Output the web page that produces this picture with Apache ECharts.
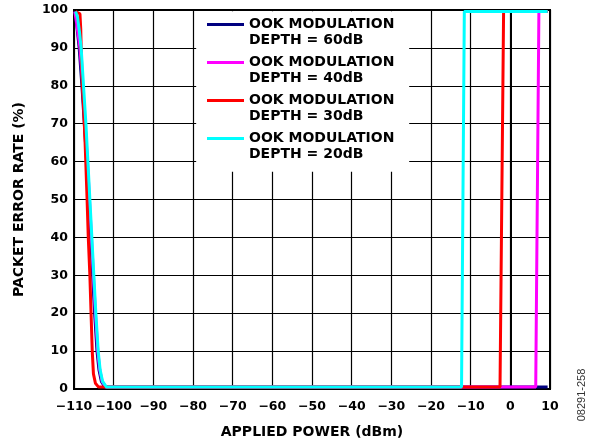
<!DOCTYPE html>
<html>
<head>
<meta charset="utf-8">
<script src="https://cdn.jsdelivr.net/npm/echarts@6/dist/echarts.min.js"></script>
<style>
html,body{margin:0;padding:0;background:#fff;}
#chart{width:595px;height:444px;}
</style>
</head>
<body>
<div id="chart"></div>
<script>
// ---- data ----
var xTicks = [-110, -100, -90, -80, -70, -60, -50, -40, -30, -20, -10, 0, 10];
var yTicks = [0, 10, 20, 30, 40, 50, 60, 70, 80, 90, 100];
var seriesNames = [
  'OOK MODULATION\nDEPTH = 60dB',
  'OOK MODULATION\nDEPTH = 40dB',
  'OOK MODULATION\nDEPTH = 30dB',
  'OOK MODULATION\nDEPTH = 20dB'
];
var seriesColors = ['#000080', '#ff00ff', '#ff0000', '#00ffff'];

// 60 dB
var x60 = [-109.8, -109.3, -108.7, -108.0, -107.4, -106.8, -106.3, -105.8, -105.3, -104.8, -104.2, -103.7, -103.1, -102.2, 9.4];
var y60 = [99.6, 96, 90, 80, 70, 60, 50, 40, 30, 20, 10, 5, 2, 0.5, 0.5];
// 40 dB
var x40 = [-109.8, -109.4, -109.0, -108.5, -107.8, -107.2, -106.6, -106.1, -105.6, -105.1, -104.6, -104.0, -103.5, -102.9, -102.0, 6.4, 7.2, 9.4];
var y40 = [99.6, 97, 94, 90, 80, 70, 60, 50, 40, 30, 20, 10, 5, 2, 0.5, 0.5, 99.6, 99.6];
// 30 dB
var x30 = [-109.6, -108.5, -108.3, -108.2, -107.9, -107.6, -107.2, -106.7, -106.4, -106.0, -105.7, -105.4, -105.1, -104.6, -103.8, -2.6, -1.7, 9.4];
var y30 = [99.6, 99, 95, 90, 80, 75, 65, 50, 40, 30, 20, 10, 4, 1.5, 0.5, 0.5, 99.6, 99.6];
// 20 dB
var x20 = [-109.6, -109.1, -108.6, -108.2, -107.6, -107.0, -106.5, -106.0, -105.5, -105.0, -104.5, -103.9, -103.4, -102.8, -101.8, -12.3, -11.6, 9.4];
var y20 = [99.6, 98, 94, 90, 80, 70, 60, 50, 40, 30, 20, 10, 5, 2, 0.5, 0.5, 99.6, 99.6];

var xs = [x60, x40, x30, x20];
var ys = [y60, y40, y30, y20];

function pairs(a, b) { return a.map(function (v, i) { return [v, b[i]]; }); }
function fmt(v) { return v < 0 ? '\u2212' + Math.abs(v) : String(v); }

var FONT = 'DejaVu Sans';
var chart = echarts.init(document.getElementById('chart'), null, {renderer: 'canvas'});

var series = seriesNames.map(function (name, i) {
  var s = {
    name: name,
    type: 'line',
    data: pairs(xs[i], ys[i]),
    symbol: 'none',
    smooth: false,
    clip: false,
    z: 2 + i,
    lineStyle: {color: seriesColors[i], width: 3},
    itemStyle: {color: seriesColors[i]},
    emphasis: {disabled: true}
  };
  if (i === 0) {
    s.markArea = {
      silent: true,
      itemStyle: {color: '#ffffff', opacity: 1},
      label: {show: false},
      data: [[{coord: [-79.2, 57.3]}, {coord: [-25.5, 99.7]}]]
    };
  }
  return s;
});

chart.setOption({
  animation: false,
  backgroundColor: '#ffffff',
  grid: {
    left: 74, right: 45, top: 10, bottom: 55,
    show: true, borderColor: '#000', borderWidth: 2, backgroundColor: 'transparent'
  },
  legend: {
    data: seriesNames,
    orient: 'vertical',
    left: 207,
    top: 0,
    padding: [1, 0, 0, 0],
    icon: 'rect',
    itemWidth: 37,
    itemHeight: 3,
    itemGap: -9.1,
    selectedMode: false,
    formatter: function (n) { return '\n' + n; },
    textStyle: {fontFamily: FONT, fontWeight: 'bold', fontSize: 14, lineHeight: 15.7, color: '#000'}
  },
  xAxis: {
    type: 'value',
    min: xTicks[0], max: xTicks[xTicks.length - 1], interval: 10,
    name: 'APPLIED POWER (dBm)',
    nameLocation: 'middle',
    nameGap: 36,
    nameTextStyle: {fontFamily: FONT, fontWeight: 'bold', fontSize: 14, color: '#000'},
    axisLine: {show: true, onZero: false, lineStyle: {color: '#000', width: 2}},
    axisTick: {show: false},
    axisLabel: {formatter: fmt, margin: 11, fontFamily: FONT, fontWeight: 'bold', fontSize: 12.5, color: '#000'},
    splitLine: {show: true, lineStyle: {color: '#000', width: 1.2}}
  },
  yAxis: {
    type: 'value',
    min: yTicks[0], max: yTicks[yTicks.length - 1], interval: 10,
    name: 'PACKET ERROR RATE (%)',
    nameLocation: 'middle',
    nameGap: 48,
    nameTextStyle: {fontFamily: FONT, fontWeight: 'bold', fontSize: 14, color: '#000'},
    axisLine: {show: true, lineStyle: {color: '#000', width: 2}},
    axisTick: {show: false},
    axisLabel: {formatter: fmt, margin: 6, fontFamily: FONT, fontWeight: 'bold', fontSize: 12.5, color: '#000'},
    splitLine: {show: true, lineStyle: {color: '#000', width: 1.2}}
  },
  graphic: [{
    type: 'text',
    x: 582, y: 395,
    rotation: Math.PI / 2,
    style: {text: '08291-258', fontFamily: 'Liberation Sans', fontSize: 11, fill: '#333', align: 'center', verticalAlign: 'middle'}
  }],
  series: series
});
</script>
</body>
</html>
